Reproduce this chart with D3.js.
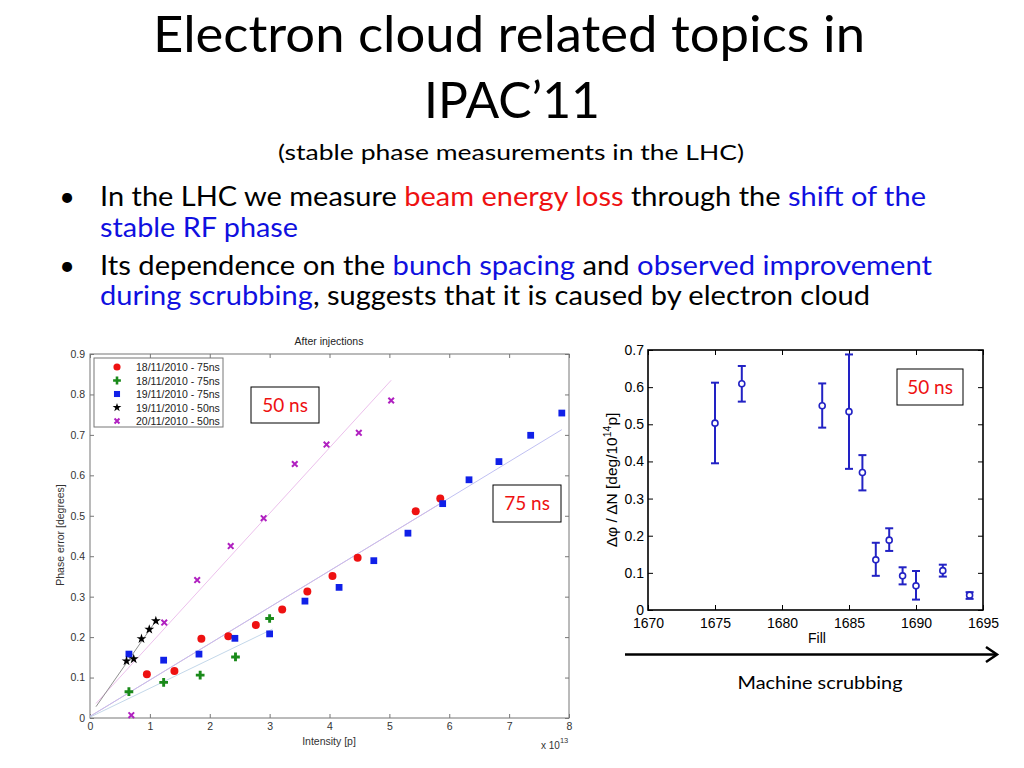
<!DOCTYPE html>
<html>
<head>
<meta charset="utf-8">
<script src="https://cdn.jsdelivr.net/npm/d3@7"></script>
<style>
  body { margin: 0; background: #fff; }
</style>
</head>
<body>
<div id="chart"></div>
<script>
// ---- left panel: [intensity (x 1e13 p), phase error (deg)]
const red1811 = [[0.95,0.108],[1.41,0.116],[1.86,0.196],[2.31,0.202],[2.77,0.230],[3.21,0.268],
  [3.63,0.313],[4.05,0.351],[4.47,0.396],[5.44,0.511],[5.85,0.543]];
const green1811 = [[0.65,0.065],[1.23,0.088],[1.84,0.106],[2.43,0.151],[3.00,0.246]];
const blue1911 = [[0.65,0.158],[1.23,0.143],[1.82,0.158],[2.42,0.197],[3.00,0.208],[3.59,0.289],
  [4.16,0.323],[4.74,0.389],[5.31,0.457],[5.89,0.530],[6.33,0.589],[6.83,0.634],[7.36,0.699],[7.88,0.754]];
const black1911 = [[0.61,0.141],[0.73,0.146],[0.86,0.196],[0.99,0.219],[1.10,0.240]];
const magenta2011 = [[0.69,0.007],[1.24,0.236],[1.79,0.341],[2.35,0.425],[2.90,0.494],[3.42,0.628],
  [3.95,0.676],[4.49,0.705],[5.03,0.785]];
const legendLabels = ["18/11/2010 - 75ns","18/11/2010 - 75ns","19/11/2010 - 75ns","19/11/2010 - 50ns","20/11/2010 - 50ns"];

// fit lines (end points)
const fitBlack = [[0.10,0.028],[1.10,0.240]];
const fitMagenta = [[0.10,0.036],[5.03,0.835]];
const fitRed = [[0.00,0.004],[5.85,0.530]];
const fitBlue = [[0.00,0.004],[7.88,0.713]];
const fitGreen = [[0.00,0.002],[3.05,0.220]];

const leftXTicks = [0,1,2,3,4,5,6,7,8];
const leftYTicks = [0,0.1,0.2,0.3,0.4,0.5,0.6,0.7,0.8,0.9];

// ---- right panel: fill number, dphi/dN with error bar limits
const fills = [1675,1677,1683,1685,1686,1687,1688,1689,1690,1692,1694];
const slope = [0.503,0.609,0.550,0.534,0.370,0.135,0.188,0.092,0.065,0.106,0.040];
const errTop = [0.612,0.657,0.610,0.688,0.417,0.181,0.220,0.115,0.105,0.122,0.048];
const errBottom = [0.395,0.561,0.491,0.380,0.322,0.092,0.159,0.069,0.028,0.090,0.030];
const rightXTicks = [1670,1675,1680,1685,1690,1695];
const rightYTicks = [0,0.1,0.2,0.3,0.4,0.5,0.6,0.7];

var slideFont = "Lato, 'Open Sans', sans-serif";
var plotFont = "'Liberation Sans', Arial, sans-serif";
var red = "#ee1111", blue = "#1010e0";

var svg = d3.select("#chart").append("svg")
  .attr("width", 1024).attr("height", 768);

// squeeze a text to the width it has on the slide
function fitWidth(sel, w) {
  var len = sel.node().getComputedTextLength();
  if (Math.abs(len - w) > 2) sel.attr("textLength", w).attr("lengthAdjust", "spacingAndGlyphs");
  return sel;
}

function slideLine(x, y, size, parts, anchor, w) {
  var t = svg.append("text")
    .attr("x", x).attr("y", y)
    .attr("font-family", slideFont)
    .attr("font-size", size)
    .attr("text-anchor", anchor);
  parts.forEach(function (p) {
    t.append("tspan").attr("fill", p[1] || "#000").text(p[0]);
  });
  fitWidth(t, w);
  return t;
}

// ---- slide text
slideLine(509, 52, 51, [["Electron cloud related topics in"]], "middle", 712);
slideLine(512, 118, 51, [["IPAC\u201911"]], "middle", 176);
slideLine(511, 160, 22, [["(stable phase measurements in the LHC)"]], "middle", 466);

[[67, 206], [67, 275]].forEach(function (b) {
  svg.append("text").attr("x", b[0]).attr("y", b[1]).attr("text-anchor", "middle")
    .attr("font-family", slideFont).attr("font-size", 27).text("\u2022");
});
slideLine(100, 206, 27, [["In the LHC we measure "], ["beam energy loss", red], [" through the "], ["shift of the", blue]], "start", 826);
slideLine(100, 237, 27, [["stable RF phase", blue]], "start", 198);
slideLine(100, 275, 27, [["Its dependence on the "], ["bunch spacing", blue], [" and "], ["observed improvement", blue]], "start", 832);
slideLine(100, 305, 27, [["during scrubbing", blue], [", suggests that it is caused by electron cloud"]], "start", 770);

// ---- left panel
var xL = d3.scaleLinear().domain([0, 8]).range([90, 569]);
var yL = d3.scaleLinear().domain([0, 0.9]).range([718, 354]);
var left = svg.append("g");
var axisGray = "#777";

function styleAxis(g, size, color) {
  g.select(".domain").remove();
  g.selectAll("line").attr("stroke", color);
  g.selectAll("text").attr("font-family", plotFont).attr("font-size", size).attr("fill", color === axisGray ? "#333" : color);
}
var fmt1 = function (d) { return d === 0 ? "0" : d3.format(".1f")(d); };

left.append("g").attr("transform", "translate(0,718)")
  .call(d3.axisBottom(xL).tickValues(leftXTicks).tickSize(-4).tickPadding(5).tickFormat(d3.format("d")))
  .call(styleAxis, 10.5, axisGray);
left.append("g").attr("transform", "translate(0,354)")
  .call(d3.axisTop(xL).tickValues(leftXTicks).tickSize(-4).tickFormat(""))
  .call(styleAxis, 10.5, axisGray);
left.append("g").attr("transform", "translate(90,0)")
  .call(d3.axisLeft(yL).tickValues(leftYTicks).tickSize(-4).tickPadding(5).tickFormat(fmt1))
  .call(styleAxis, 10.5, axisGray);
left.append("g").attr("transform", "translate(569,0)")
  .call(d3.axisRight(yL).tickValues(leftYTicks).tickSize(-4).tickFormat(""))
  .call(styleAxis, 10.5, axisGray);
left.append("rect").attr("x", 90).attr("y", 354).attr("width", 479).attr("height", 364)
  .attr("fill", "none").attr("stroke", axisGray).attr("stroke-width", 1);

left.append("text").attr("x", 329).attr("y", 345).attr("text-anchor", "middle")
  .attr("font-family", plotFont).attr("font-size", 10.5).attr("fill", "#222").text("After injections");
left.append("text").attr("transform", "translate(64,535) rotate(-90)").attr("text-anchor", "middle")
  .attr("font-family", plotFont).attr("font-size", 10.5).attr("fill", "#333").text("Phase error [degrees]");
left.append("text").attr("x", 329).attr("y", 745).attr("text-anchor", "middle")
  .attr("font-family", plotFont).attr("font-size", 10.5).attr("fill", "#333").text("Intensity [p]");
var exp = left.append("text").attr("x", 541).attr("y", 749)
  .attr("font-family", plotFont).attr("font-size", 10).attr("fill", "#333");
exp.append("tspan").text("x 10");
exp.append("tspan").attr("dy", -6).attr("font-size", 7.5).text("13");

// fit lines
var lineL = d3.line().x(function (d) { return xL(d[0]); }).y(function (d) { return yL(d[1]); });
[[fitMagenta, "#ecc0ec"], [fitRed, "#f2b4cc"], [fitBlue, "#c0c0f2"], [fitGreen, "#c4d8ea"], [fitBlack, "#909090"]]
  .forEach(function (f) {
    left.append("path").attr("d", lineL(f[0])).attr("fill", "none")
      .attr("stroke", f[1]).attr("stroke-width", 1);
  });

// markers
var markers = [
  { data: red1811, type: d3.symbolCircle, size: 50, fill: "#ee1111", stroke: null },
  { data: green1811, type: d3.symbolCross, size: 42, fill: "#1a8a1a", stroke: null },
  { data: blue1911, type: d3.symbolSquare, size: 46, fill: "#1020e8", stroke: null },
  { data: black1911, type: d3.symbolStar, size: 30, fill: "#000", stroke: null },
  { data: magenta2011, type: d3.symbolTimes, size: 22, fill: "none", stroke: "#b020c0" }
];
markers.forEach(function (m) {
  var sym = d3.symbol().type(m.type).size(m.size);
  left.selectAll(null).data(m.data).enter().append("path")
    .attr("transform", function (d) { return "translate(" + xL(d[0]) + "," + yL(d[1]) + ")"; })
    .attr("d", sym)
    .attr("fill", m.fill)
    .attr("stroke", m.stroke || "none")
    .attr("stroke-width", m.stroke ? 2 : 0);
});

// legend
var leg = left.append("g");
leg.append("rect").attr("x", 94).attr("y", 358).attr("width", 129).attr("height", 69)
  .attr("fill", "#fff").attr("stroke", axisGray);
markers.forEach(function (m, i) {
  var yy = 367 + i * 13.5;
  leg.append("path").attr("transform", "translate(117," + yy + ")")
    .attr("d", d3.symbol().type(m.type).size(m.size * 0.8))
    .attr("fill", m.fill).attr("stroke", m.stroke || "none").attr("stroke-width", m.stroke ? 2 : 0);
  leg.append("text").attr("x", 136).attr("y", yy + 4)
    .attr("font-family", plotFont).attr("font-size", 10.5).attr("fill", "#222").text(legendLabels[i]);
});

// boxed labels
function boxLabel(x, y, w, h, txt) {
  svg.append("rect").attr("x", x).attr("y", y).attr("width", w).attr("height", h)
    .attr("fill", "#fff").attr("stroke", "#000").attr("stroke-width", 1);
  svg.append("text").attr("x", x + w / 2).attr("y", y + h / 2 + 6.5).attr("text-anchor", "middle")
    .attr("font-family", slideFont).attr("font-size", 19).attr("fill", red).text(txt);
}
boxLabel(251, 387, 68, 36, "50 ns");
boxLabel(493, 485, 68, 37, "75 ns");

// ---- right panel
var xR = d3.scaleLinear().domain([1670, 1695]).range([648, 983]);
var yR = d3.scaleLinear().domain([0, 0.7]).range([610, 350]);
var right = svg.append("g");

right.append("g").attr("transform", "translate(0,610)")
  .call(d3.axisBottom(xR).tickValues(rightXTicks).tickSize(-5).tickPadding(8).tickFormat(d3.format("d")))
  .call(styleAxis, 14, "#000");
right.append("g").attr("transform", "translate(0,350)")
  .call(d3.axisTop(xR).tickValues(rightXTicks).tickSize(-5).tickFormat(""))
  .call(styleAxis, 14, "#000");
right.append("g").attr("transform", "translate(648,0)")
  .call(d3.axisLeft(yR).tickValues(rightYTicks).tickSize(-5).tickPadding(4).tickFormat(fmt1))
  .call(styleAxis, 14, "#000");
right.append("g").attr("transform", "translate(983,0)")
  .call(d3.axisRight(yR).tickValues(rightYTicks).tickSize(-5).tickFormat(""))
  .call(styleAxis, 14, "#000");
right.append("rect").attr("x", 648).attr("y", 350).attr("width", 335).attr("height", 260)
  .attr("fill", "none").attr("stroke", "#000").attr("stroke-width", 1.6);

right.append("text").attr("x", 817).attr("y", 643).attr("text-anchor", "middle")
  .attr("font-family", plotFont).attr("font-size", 14).text("Fill");
var yLab = right.append("text").attr("transform", "translate(617,480) rotate(-90)")
  .attr("text-anchor", "middle").attr("font-family", plotFont).attr("font-size", 15.5);
yLab.append("tspan").text("\u0394\u03c6 / \u0394N [deg/10");
yLab.append("tspan").attr("dy", -6).attr("font-size", 10.5).text("14");
yLab.append("tspan").attr("dy", 6).text("p]");

var barColor = "#2222c4";
var pts = fills.map(function (f, i) { return { fill: f, v: slope[i], hi: errTop[i], lo: errBottom[i] }; });
var bars = right.selectAll(".err").data(pts).enter().append("g").attr("class", "err");
bars.append("line")
  .attr("x1", function (d) { return xR(d.fill); }).attr("x2", function (d) { return xR(d.fill); })
  .attr("y1", function (d) { return yR(d.lo); }).attr("y2", function (d) { return yR(d.hi); })
  .attr("stroke", barColor).attr("stroke-width", 2);
["lo", "hi"].forEach(function (k) {
  bars.append("line")
    .attr("x1", function (d) { return xR(d.fill) - 4; }).attr("x2", function (d) { return xR(d.fill) + 4; })
    .attr("y1", function (d) { return yR(d[k]); }).attr("y2", function (d) { return yR(d[k]); })
    .attr("stroke", barColor).attr("stroke-width", 2);
});
bars.append("circle")
  .attr("cx", function (d) { return xR(d.fill); }).attr("cy", function (d) { return yR(d.v); })
  .attr("r", 3).attr("fill", "#fff").attr("stroke", barColor).attr("stroke-width", 1.6);

// 50 ns box on right panel
boxLabel(897, 369, 66, 36, "50 ns");

// scrubbing arrow
svg.append("line").attr("x1", 625).attr("x2", 996).attr("y1", 654.5).attr("y2", 654.5)
  .attr("stroke", "#000").attr("stroke-width", 2.5);
svg.append("path").attr("d", "M986,647 L997,654.5 L986,662").attr("fill", "none")
  .attr("stroke", "#000").attr("stroke-width", 2.5);
slideLine(820, 689, 18, [["Machine scrubbing"]], "middle", 165);
</script>
</body>
</html>
